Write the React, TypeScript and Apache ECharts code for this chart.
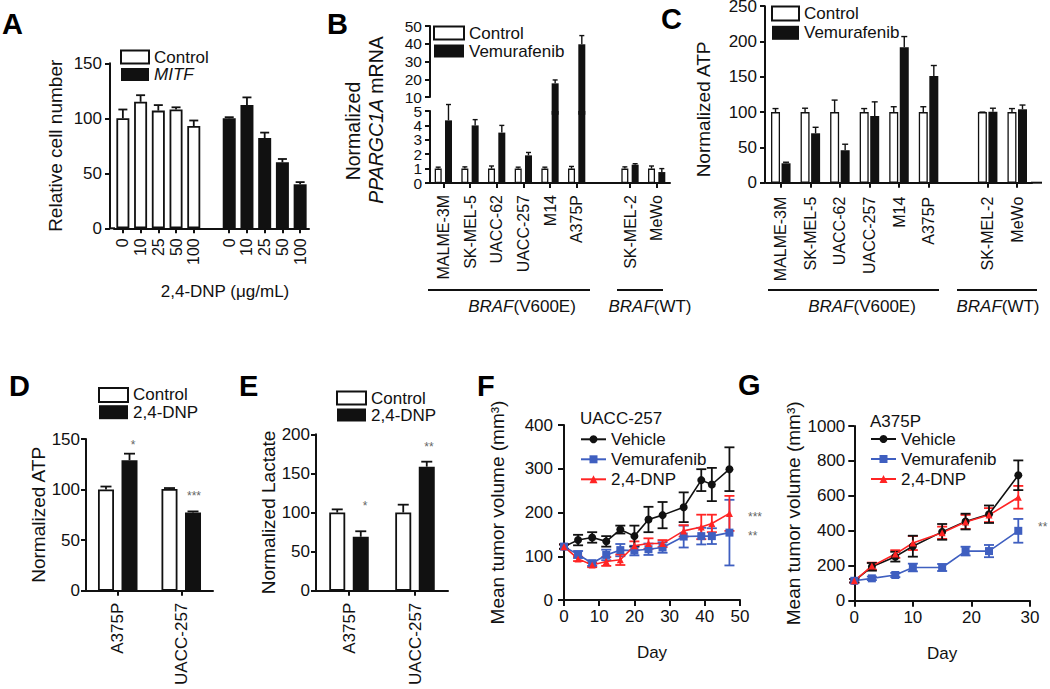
import React, { useEffect, useRef } from 'react';
import * as echarts from 'echarts';

const FONT = '"Liberation Sans", Arial, Helvetica, sans-serif';
const INK = '#111111';
const BLUE = '#3F5FC0';
const RED = '#FF2424';
const STAR = '#666666';

// ---- Panel A: relative cell number vs 2,4-DNP dose ----
const aCategories = ['0', '10', '25', '50', '100', '', '0', '10', '25', '50', '100'];
const aControl = [100, 115, 107, 108, 93];
const aControlErr = [8, 6, 5, 2, 5];
const aMitf = [100, 112, 82, 60, 40];
const aMitfErr = [1, 7, 5, 3, 2];

// ---- Panel B: PPARGC1A mRNA ----
const bCategories = ['MALME-3M', 'SK-MEL-5', 'UACC-62', 'UACC-257', 'M14', 'A375P', '', 'SK-MEL-2', 'MeWo'];
const bControl = [1, 1, 1, 1, 1, 1, null, 1, 1];
const bControlErr = [0.1, 0.12, 0.18, 0.1, 0.1, 0.15, null, 0.12, 0.18];
const bVemurafenib = [4.35, 4.0, 3.5, 1.92, 17.7, 39.7, null, 1.27, 0.76];
const bVemurafenibErr = [1.1, 0.4, 0.5, 0.2, 1.9, 4.9, null, 0.07, 0.24];

// ---- Panel C: normalized ATP ----
const cCategories = bCategories;
const cControl = [100, 100, 100, 100, 100, 100, null, 100, 100];
const cControlErr = [5, 5.5, 17, 5, 7.6, 7.6, null, 0, 5];
const cVemurafenib = [27.5, 70, 46, 94.5, 192, 151, null, 100.5, 104];
const cVemurafenibErr = [1.5, 8.5, 8.5, 20, 15, 15, null, 5, 6];

// ---- Panel D: normalized ATP, 2,4-DNP ----
const dCategories = ['A375P', 'UACC-257'];
const dControl = [100, 100.5];
const dControlErr = [3, 1];
const dDnp = [129, 77.4];
const dDnpErr = [6.5, 1];

// ---- Panel E: normalized lactate ----
const eCategories = ['A375P', 'UACC-257'];
const eControl = [100, 100];
const eControlErr = [4, 10];
const eDnp = [69, 158.6];
const eDnpErr = [7, 6.4];

// ---- Panel F: UACC-257 xenograft ----
const fDays = [0, 4, 8, 12, 16, 20, 24, 28, 34, 39, 42, 47];
const fVehicle = [122, 137, 143, 134, 161, 146, 184, 194, 212, 274, 264, 299];
const fVehicleErr = [5, 12, 12, 12, 9, 24, 29, 30, 34, 25, 38, 50];
const fVemurafenib = [122, 104, 84, 103, 114, 113, 116, 120, 145, 146, 146, 154];
const fVemurafenibErr = [5, 8, 6, 12, 14, 11, 13, 12, 25, 19, 18, 75];
const fDnp = [122, 94, 80, 88, 92, 124, 129, 129, 158, 167, 175, 198];
const fDnpErr = [5, 5, 5, 10, 12, 10, 12, 8, 13, 28, 20, 40];

// ---- Panel G: A375P xenograft ----
const gDays = [0, 3, 7, 10, 15, 19, 23, 28];
const gVehicle = [114, 194, 252, 312, 394, 453, 495, 718];
const gVehicleErr = [10, 22, 28, 60, 45, 45, 50, 85];
const gVemurafenib = [114, 128, 147, 190, 190, 284, 284, 400];
const gVemurafenibErr = [10, 10, 12, 22, 20, 25, 35, 68];
const gDnp = [114, 198, 267, 330, 389, 451, 490, 592];
const gDnpErr = [10, 20, 22, 40, 35, 40, 40, 65];

const ctrlStyle = (bw: number) => ({ color: '#ffffff', borderColor: INK, borderWidth: bw });
const blackStyle = { color: INK };

function errSeries(
  xi: number, pts: any[], offset: number, capW: number, color: string, both: boolean, lw = 1.8
) {
  return {
    type: 'custom',
    xAxisIndex: xi,
    yAxisIndex: xi,
    silent: true,
    clip: false,
    z: 3,
    data: pts,
    encode: { x: 0, y: 1 },
    renderItem: (_p: any, api: any) => {
      const x = api.value(0);
      const v = api.value(1);
      const e = api.value(2);
      const hi = api.coord([x, v + e]);
      const mid = api.coord([x, v]);
      const lo = api.coord([x, v - e]);
      const cx = mid[0] + offset;
      const y0 = both ? lo[1] : mid[1];
      const st = { stroke: color, lineWidth: lw };
      const children: any[] = [
        { type: 'line', shape: { x1: cx, y1: y0, x2: cx, y2: hi[1] }, style: st },
        { type: 'line', shape: { x1: cx - capW / 2, y1: hi[1], x2: cx + capW / 2, y2: hi[1] }, style: st },
      ];
      if (both) {
        children.push({ type: 'line', shape: { x1: cx - capW / 2, y1: lo[1], x2: cx + capW / 2, y2: lo[1] }, style: st });
      }
      return { type: 'group', children };
    },
  };
}

const pairs = (vals: (number | null)[], errs: (number | null)[], shift = 0, keep = (v: number) => true) =>
  vals
    .map((v, i) => (v == null || errs[i] == null || !keep(v) ? null : [i + shift, v, errs[i]]))
    .filter((d) => d != null);

const linePts = (days: number[], vals: number[], errs: number[]) => days.map((d, i) => [d, vals[i], errs[i]]);

function catX(gridIndex: number, data: string[], margin: number, fontSize: number) {
  return {
    type: 'category',
    gridIndex,
    data,
    axisLine: { show: true, onZero: false, lineStyle: { color: INK, width: 2 } },
    axisTick: {
      show: true,
      alignWithLabel: true,
      length: 5,
      interval: (_i: number, v: string) => v !== '',
      lineStyle: { color: INK, width: 2 },
    },
    axisLabel: { show: true, interval: 0, rotate: 90, margin, fontSize, color: INK, fontFamily: FONT },
    splitLine: { show: false },
  };
}

function valY(gridIndex: number, min: number, max: number, interval: number, o: any = {}) {
  return {
    type: 'value',
    gridIndex,
    min,
    max,
    interval,
    position: 'left',
    offset: o.offset ?? 0,
    name: o.name,
    nameLocation: 'middle',
    nameGap: o.nameGap ?? 40,
    nameTextStyle: { fontSize: 19, color: INK, fontFamily: FONT, padding: o.namePad ?? 0 },
    axisLine: { show: o.hideLine ? false : true, lineStyle: { color: INK, width: 2 } },
    axisTick: { show: o.hideLine ? false : true, length: o.tickLen ?? 5, lineStyle: { color: INK, width: 2 } },
    axisLabel: {
      margin: o.margin ?? 8,
      fontSize: o.fontSize ?? 17,
      color: INK,
      fontFamily: FONT,
      showMinLabel: true,
      showMaxLabel: true,
      hideOverlap: false,
      formatter: o.formatter ?? ((v: number) => String(v)),
    },
    splitLine: { show: false },
  };
}

function valX(gridIndex: number, min: number, max: number, interval: number) {
  return {
    type: 'value',
    gridIndex,
    min,
    max,
    interval,
    name: 'Day',
    nameLocation: 'middle',
    nameGap: 44,
    nameTextStyle: { fontSize: 17, color: INK, fontFamily: FONT },
    axisLine: { show: true, onZero: false, lineStyle: { color: INK, width: 2 } },
    axisTick: { show: true, length: 6, lineStyle: { color: INK, width: 2 } },
    axisLabel: { margin: 8, fontSize: 17, color: INK, fontFamily: FONT, showMinLabel: true, showMaxLabel: true },
    splitLine: { show: false },
  };
}

const legendName = (n: string) => {
  const s = n.split('|')[1];
  return s === 'MITF' ? '{i|MITF}' : s;
};

function barLegend(left: number, top: number, names: string[], iw: number, ih: number, lh: number, gap: number) {
  return {
    left,
    top,
    orient: 'vertical',
    padding: 0,
    itemWidth: iw,
    itemHeight: ih,
    itemGap: gap,
    icon: 'rect',
    selectedMode: false,
    data: names,
    formatter: legendName,
    textStyle: {
      fontSize: 17,
      lineHeight: lh,
      color: INK,
      fontFamily: FONT,
      rich: { i: { fontStyle: 'italic', fontSize: 17, lineHeight: lh, color: INK, fontFamily: FONT } },
    },
  };
}

function lineLegend(left: number, top: number, names: string[]) {
  return {
    left,
    top,
    orient: 'vertical',
    padding: 0,
    itemWidth: 25,
    itemHeight: 10,
    itemGap: 3,
    selectedMode: false,
    data: names,
    formatter: legendName,
    textStyle: { fontSize: 17, color: INK, fontFamily: FONT },
  };
}

function lineSeries(name: string, xi: number, days: number[], vals: number[], color: string, symbol: string, size: number) {
  return {
    type: 'line',
    name,
    xAxisIndex: xi,
    yAxisIndex: xi,
    data: days.map((d, i) => [d, vals[i]]),
    symbol,
    symbolSize: size,
    color,
    itemStyle: { color },
    lineStyle: { color, width: 1.6 },
    z: 4,
  };
}

const txt = (text: string, x: number, y: number, size: number, o: any = {}) => ({
  type: 'text',
  x,
  y,
  rotation: o.rotation ?? 0,
  style: {
    text,
    fontSize: size,
    fontFamily: FONT,
    fontWeight: o.bold ? 'bold' : 'normal',
    fill: o.color ?? INK,
    align: o.align ?? 'left',
    verticalAlign: 'middle',
    rich: {
      i: { fontStyle: 'italic', fontSize: size, fontFamily: FONT, fill: o.color ?? INK },
    },
  },
});

const hline = (x1: number, x2: number, y: number) => ({
  type: 'line',
  shape: { x1, y1: y, x2, y2: y },
  style: { stroke: INK, lineWidth: 2 },
});

function buildOption() {
  const none = (n: number) => new Array(n).fill('-');
  const aControlData = [...aControl, ...none(6)];
  const aMitfData = [...none(6), ...aMitf];
  const nul = (arr: (number | null)[]) => arr.map((v) => (v == null ? '-' : v));

  const bw = 7, bgap = 0.47, bOff = (bw * (1 + bgap)) / 2;
  const cw = 9, cgap = 0.17, cOff = (cw * (1 + cgap)) / 2;
  const dw = 16, dgap = 0.47, dOff = (dw * (1 + dgap)) / 2;

  const grids = [
    { left: 114, top: 63.3, width: 195, height: 165 },
    { left: 430, top: 111, width: 240, height: 72 },
    { left: 430, top: 26, width: 240, height: 71 },
    { left: 766, top: 6.2, width: 266, height: 176.5 },
    { left: 86, top: 439, width: 127, height: 151.7 },
    { left: 316, top: 434.3, width: 132, height: 156.4 },
    { left: 564, top: 425, width: 176, height: 175 },
    { left: 854.3, top: 426, width: 175.7, height: 174.7 },
  ].map((g) => ({ ...g, containLabel: false, outerBoundsMode: 'none' }));

  const xAxis: any[] = [
    {
      ...catX(0, aCategories, 10, 16),
      name: '2,4-DNP (μg/mL)',
      nameLocation: 'middle',
      nameGap: 55,
      nameTextStyle: { fontSize: 17, color: INK, fontFamily: FONT, padding: [0, 0, 0, 27] },
    },
    catX(1, bCategories, 12, 16),
    { type: 'category', gridIndex: 2, data: bCategories, show: false },
    catX(3, cCategories, 14, 16),
    catX(4, dCategories, 12, 17),
    catX(5, eCategories, 12, 17),
    valX(6, 0, 50, 10),
    valX(7, 0, 30, 10),
  ];

  const even = (v: number) => (v % 2 === 0 ? String(v) : '');
  const odd = (v: number) => (v % 2 === 1 ? String(v) : '');

  const yAxis: any[] = [
    valY(0, 0, 150, 50, { offset: 4, name: 'Relative cell number', nameGap: 45 }),
    valY(1, 0, 5, 1, { margin: 8, fontSize: 15.5, formatter: even }),
    valY(2, 10, 50, 10, { margin: 8, fontSize: 15.5 }),
    valY(3, 0, 250, 50, { offset: 1, name: 'Normalized ATP', nameGap: 52, namePad: [0, 30, 0, 0] }),
    valY(4, 0, 150, 50, { name: 'Normalized ATP', nameGap: 34, margin: 6 }),
    valY(5, 0, 200, 50, { name: 'Normalized Lactate', nameGap: 38, margin: 6 }),
    valY(6, 0, 400, 100, { name: 'Mean tumor volume (mm³)', nameGap: 57, margin: 11, tickLen: 6 }),
    valY(7, 0, 1000, 200, { name: 'Mean tumor volume (mm³)', nameGap: 51, margin: 9, tickLen: 6 }),
    // second label layer for panel B's lower segment (odd ticks)
    valY(1, 0, 5, 1, { margin: 8, fontSize: 15.5, formatter: odd, hideLine: true }),
  ];

  const series: any[] = [
    // A
    { type: 'bar', name: 'A|Control', xAxisIndex: 0, yAxisIndex: 0, data: aControlData, barWidth: 13, barGap: '-100%', itemStyle: ctrlStyle(1.8) },
    { type: 'bar', name: 'A|MITF', xAxisIndex: 0, yAxisIndex: 0, data: aMitfData, barWidth: 13, barGap: '-100%', itemStyle: blackStyle },
    errSeries(0, pairs(aControl, aControlErr), 0, 9, INK, false),
    errSeries(0, pairs(aMitf, aMitfErr, 6), 0, 9, INK, false),
    // B lower
    { type: 'bar', name: 'B|Control', xAxisIndex: 1, yAxisIndex: 1, data: nul(bControl), barWidth: bw, barGap: `${bgap * 100}%`, clip: true, itemStyle: ctrlStyle(1.3) },
    { type: 'bar', name: 'B|Vemurafenib', xAxisIndex: 1, yAxisIndex: 1, data: nul(bVemurafenib), barWidth: bw, barGap: `${bgap * 100}%`, clip: true, itemStyle: blackStyle },
    // B upper
    { type: 'bar', name: 'B|pad', xAxisIndex: 2, yAxisIndex: 2, data: none(9), barWidth: bw, barGap: `${bgap * 100}%`, itemStyle: ctrlStyle(1.3) },
    {
      type: 'bar', name: 'B|VemurafenibHigh', xAxisIndex: 2, yAxisIndex: 2,
      data: bVemurafenib.map((v) => (v != null && v >= 10 ? v : '-')),
      barWidth: bw, barGap: `${bgap * 100}%`, clip: false, itemStyle: blackStyle,
    },
    errSeries(1, pairs(bControl, bControlErr), -bOff, 5, INK, false, 1.4),
    errSeries(1, pairs(bVemurafenib, bVemurafenibErr, 0, (v) => v <= 5), bOff, 5, INK, false, 1.4),
    errSeries(2, pairs(bVemurafenib, bVemurafenibErr, 0, (v) => v >= 10), bOff, 5, INK, false, 1.4),
    // C
    { type: 'bar', name: 'C|Control', xAxisIndex: 3, yAxisIndex: 3, data: nul(cControl), barWidth: cw, barGap: `${cgap * 100}%`, itemStyle: ctrlStyle(1.3) },
    { type: 'bar', name: 'C|Vemurafenib', xAxisIndex: 3, yAxisIndex: 3, data: nul(cVemurafenib), barWidth: cw, barGap: `${cgap * 100}%`, itemStyle: blackStyle },
    errSeries(3, pairs(cControl, cControlErr), -cOff, 6, INK, false, 1.4),
    errSeries(3, pairs(cVemurafenib, cVemurafenibErr), cOff, 6, INK, false, 1.4),
    // D
    { type: 'bar', name: 'D|Control', xAxisIndex: 4, yAxisIndex: 4, data: dControl, barWidth: dw, barGap: `${dgap * 100}%`, itemStyle: ctrlStyle(1.8) },
    { type: 'bar', name: 'D|2,4-DNP', xAxisIndex: 4, yAxisIndex: 4, data: dDnp, barWidth: dw, barGap: `${dgap * 100}%`, itemStyle: blackStyle },
    errSeries(4, pairs(dControl, dControlErr), -dOff, 11, INK, false),
    errSeries(4, pairs(dDnp, dDnpErr), dOff, 11, INK, false),
    // E
    { type: 'bar', name: 'E|Control', xAxisIndex: 5, yAxisIndex: 5, data: eControl, barWidth: dw, barGap: `${dgap * 100}%`, itemStyle: ctrlStyle(1.8) },
    { type: 'bar', name: 'E|2,4-DNP', xAxisIndex: 5, yAxisIndex: 5, data: eDnp, barWidth: dw, barGap: `${dgap * 100}%`, itemStyle: blackStyle },
    errSeries(5, pairs(eControl, eControlErr), -dOff, 11, INK, false),
    errSeries(5, pairs(eDnp, eDnpErr), dOff, 11, INK, false),
    // F
    errSeries(6, linePts(fDays, fVemurafenib, fVemurafenibErr), 0, 10, BLUE, true, 1.8),
    errSeries(6, linePts(fDays, fDnp, fDnpErr), 0, 10, RED, true, 1.8),
    errSeries(6, linePts(fDays, fVehicle, fVehicleErr), 0, 10, INK, true, 1.8),
    lineSeries('F|Vehicle', 6, fDays, fVehicle, INK, 'circle', 8),
    lineSeries('F|Vemurafenib', 6, fDays, fVemurafenib, BLUE, 'rect', 8),
    lineSeries('F|2,4-DNP', 6, fDays, fDnp, RED, 'triangle', 7),
    // G
    errSeries(7, linePts(gDays, gVemurafenib, gVemurafenibErr), 0, 10, BLUE, true, 1.8),
    errSeries(7, linePts(gDays, gDnp, gDnpErr), 0, 10, RED, true, 1.8),
    errSeries(7, linePts(gDays, gVehicle, gVehicleErr), 0, 10, INK, true, 1.8),
    lineSeries('G|Vehicle', 7, gDays, gVehicle, INK, 'circle', 8),
    lineSeries('G|Vemurafenib', 7, gDays, gVemurafenib, BLUE, 'rect', 8),
    lineSeries('G|2,4-DNP', 7, gDays, gDnp, RED, 'triangle', 7),
  ];

  const legend = [
    barLegend(120, 48.5, ['A|Control', 'A|MITF'], 28, 13, 16, 0.5),
    barLegend(433, 24.5, ['B|Control', 'B|Vemurafenib'], 30, 13, 16, 1),
    barLegend(771, 4.9, ['C|Control', 'C|Vemurafenib'], 27, 14, 16, 2.4),
    barLegend(98, 386.4, ['D|Control', 'D|2,4-DNP'], 29, 14, 15, 0.3),
    barLegend(336, 389.5, ['E|Control', 'E|2,4-DNP'], 29, 13, 14, 0),
    lineLegend(580, 430.8, ['F|Vehicle', 'F|Vemurafenib', 'F|2,4-DNP']),
    lineLegend(870, 430.5, ['G|Vehicle', 'G|Vemurafenib', 'G|2,4-DNP']),
  ];

  const titleStyle = { fontSize: 17, fontWeight: 'normal', color: INK, fontFamily: FONT };
  const title = [
    { text: 'UACC-257', left: 580, top: 409.5, padding: 0, textStyle: titleStyle },
    { text: 'A375P', left: 870, top: 413, padding: 0, textStyle: titleStyle },
  ];

  const graphic = [
    // panel letters
    txt('A', 2, 24, 29, { bold: true, color: '#000' }),
    txt('B', 327, 23.5, 29, { bold: true, color: '#000' }),
    txt('C', 661, 19, 29, { bold: true, color: '#000' }),
    txt('D', 9, 386, 29, { bold: true, color: '#000' }),
    txt('E', 239, 386, 29, { bold: true, color: '#000' }),
    txt('F', 477, 386, 29, { bold: true, color: '#000' }),
    txt('G', 738, 385, 29, { bold: true, color: '#000' }),
    // B y-axis title
    txt('Normalized', 353, 131, 19.5, { rotation: Math.PI / 2, align: 'center' }),
    txt('{i|PPARGC1A} mRNA', 376, 120, 19.5, { rotation: Math.PI / 2, align: 'center' }),
    // BRAF group bars
    hline(428, 590, 290),
    hline(617, 663, 290),
    txt('{i|BRAF}(V600E)', 522, 306.7, 17, { align: 'center' }),
    txt('{i|BRAF}(WT)', 650, 306.7, 17, { align: 'center' }),
    hline(768, 939, 290),
    hline(957, 1037, 290),
    txt('{i|BRAF}(V600E)', 862, 306.7, 17, { align: 'center' }),
    txt('{i|BRAF}(WT)', 998, 306.7, 17, { align: 'center' }),
    // axis corner fillers
    hline(109, 115, 228.3),
    hline(1031, 1042, 182.7),
    // significance marks
    txt('*', 133, 445, 12, { align: 'center', color: STAR }),
    txt('***', 194, 496, 12, { align: 'center', color: STAR }),
    txt('*', 365, 506, 12, { align: 'center', color: STAR }),
    txt('**', 429, 446.5, 12, { align: 'center', color: STAR }),
    txt('***', 748, 517, 12, { color: STAR }),
    txt('**', 748, 535.5, 12, { color: STAR }),
    txt('**', 1038, 527, 12, { color: STAR }),
  ];

  return {
    animation: false,
    backgroundColor: '#ffffff',
    textStyle: { fontFamily: FONT },
    grid: grids,
    xAxis,
    yAxis,
    legend,
    title,
    series,
    graphic: { elements: graphic },
  };
}

export default function App() {
  const ref = useRef<HTMLDivElement>(null);
  useEffect(() => {
    const chart = echarts.init(ref.current as HTMLDivElement, undefined, { renderer: 'svg' });
    chart.setOption(buildOption() as any);
    return () => chart.dispose();
  }, []);
  return (
    <div
      ref={ref}
      style={{ position: 'absolute', left: 0, top: 0, width: 1050, height: 689, background: '#fff' }}
    />
  );
}
